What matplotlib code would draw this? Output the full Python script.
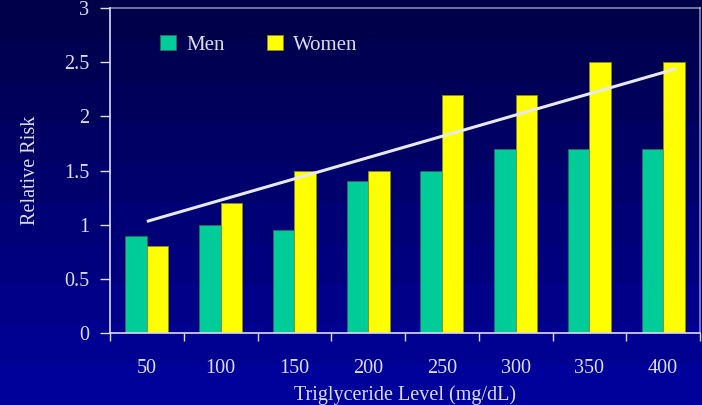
import numpy as np
import matplotlib
matplotlib.use('Agg')
import matplotlib.pyplot as plt
from matplotlib.colors import LinearSegmentedColormap

plt.rcParams['font.family'] = ['Liberation Serif', 'DejaVu Serif']

levels = ['50', '100', '150', '200', '250', '300', '350', '400']
men = [0.9, 1.0, 0.95, 1.4, 1.5, 1.7, 1.7, 1.7]
women = [0.8, 1.2, 1.5, 1.5, 2.2, 2.2, 2.5, 2.5]
# hand drawn trend line (category position, relative risk)
trend_x = [0.0, 7.18]
trend_y = [1.03, 2.44]

txt = '#dcdcf2'
fig = plt.figure(figsize=(7.02, 4.05), dpi=100)

# background gradient, dark navy at top to brighter blue at bottom
bg = fig.add_axes([0, 0, 1, 1])
grad = np.linspace(0, 1, 10).reshape(-1, 1)
cmap = LinearSegmentedColormap.from_list('bg', ['#00004a', '#00009a'])
bg.imshow(grad, aspect='auto', cmap=cmap, extent=[0, 1, 0, 1], origin='upper')
bg.axis('off')

ax = fig.add_axes([110/702, 72/405, 590/702, 325/405])
ax.patch.set_alpha(0)

x = np.arange(len(levels))
w = 0.29
ax.bar(x - w/2, men, w, color='#00cc99', edgecolor='#2a6a5a', linewidth=0.6, label='Men')
ax.bar(x + w/2, women, w, color='#ffff00', edgecolor='#8a8a20', linewidth=0.6, label='Women')
ax.plot(trend_x, trend_y, color='#e8e8f0', linewidth=2.2, solid_capstyle='butt')

ax.set_xlim(-0.5, len(levels) - 0.5)
ax.set_ylim(0, 3)
ax.set_yticks([0, 0.5, 1, 1.5, 2, 2.5, 3])
ax.set_yticklabels(['0', '0.5', '1', '1.5', '2', '2.5', '3'])
ax.set_xticks(x)
ax.set_xticklabels(levels)
ax.set_xticks(np.arange(len(levels) + 1) - 0.5, minor=True)
ax.tick_params(axis='x', which='major', length=0, pad=19, colors=txt, labelsize=14.5)
ax.tick_params(axis='x', which='minor', length=6, color=txt, width=1)
ax.tick_params(axis='y', length=7, color=txt, width=1, colors=txt, labelsize=14.5, pad=8)

for s in ['left', 'bottom', 'top', 'right']:
    ax.spines[s].set_color(txt)
    ax.spines[s].set_linewidth(1.2)
ax.spines['right'].set_alpha(0.6)
ax.spines['top'].set_alpha(0.6)

ax.set_ylabel('Relative Risk', color=txt, fontsize=14.5, labelpad=17)
ax.set_xlabel('Triglyceride Level (mg/dL)', color=txt, fontsize=14.5, labelpad=5)

leg = ax.legend(loc='upper left', bbox_to_anchor=(0.053, 0.975), ncol=2, frameon=False,
                fontsize=15, handlelength=0.75, handleheight=0.75, columnspacing=2.05,
                handletextpad=0.5)
for t in leg.get_texts():
    t.set_color(txt)

fig.savefig('out.png', dpi=100)
